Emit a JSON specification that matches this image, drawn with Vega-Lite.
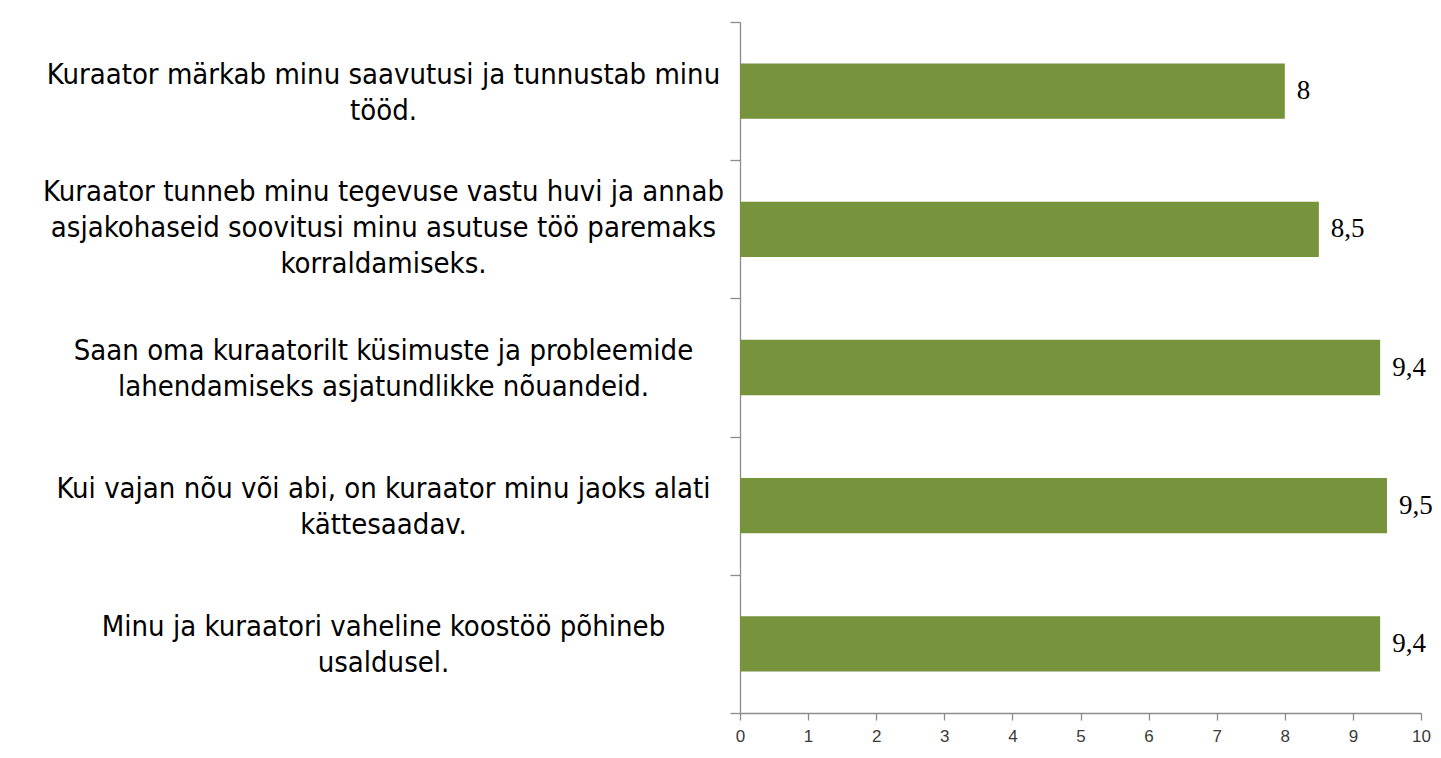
{
  "$schema": "https://vega.github.io/schema/vega-lite/v6.json",
  "width": 681,
  "height": 691,
  "autosize": {"type": "none"},
  "padding": {"left": 740, "top": 22, "right": 20, "bottom": 45},
  "background": "white",
  "config": {"view": {"stroke": null}},
  "data": {
    "values": [
      {"statement": "Kuraator märkab minu saavutusi ja tunnustab minu|tööd.", "score": 8, "label": "8"},
      {"statement": "Kuraator tunneb minu tegevuse vastu huvi ja annab|asjakohaseid soovitusi minu asutuse töö paremaks|korraldamiseks.", "score": 8.5, "label": "8,5"},
      {"statement": "Saan oma kuraatorilt küsimuste ja probleemide|lahendamiseks asjatundlikke nõuandeid.", "score": 9.4, "label": "9,4"},
      {"statement": "Kui vajan nõu või abi, on kuraator minu jaoks alati|kättesaadav.", "score": 9.5, "label": "9,5"},
      {"statement": "Minu ja kuraatori vaheline koostöö põhineb|usaldusel.", "score": 9.4, "label": "9,4"}
    ]
  },
  "encoding": {
    "y": {
      "field": "statement",
      "type": "nominal",
      "sort": null,
      "scale": {"paddingInner": 0, "paddingOuter": 0},
      "axis": {
        "title": null,
        "labelExpr": "split(datum.label, '|')",
        "labelFont": "DejaVu Sans Condensed",
        "labelFontSize": 29,
        "labelLineHeight": 36,
        "labelColor": "#000000",
        "labelAlign": "center",
        "labelBaseline": "middle",
        "labelPadding": 347,
        "labelOffset": {"condition": {"test": "length(split(datum.value, '|')) == 3", "value": -38}, "value": -17},
        "labelLimit": 0,
        "labelOverlap": false,
        "tickBand": "extent",
        "tickSize": 10,
        "tickColor": "#8c8c8c",
        "domainColor": "#8c8c8c",
        "domainWidth": 1.3,
        "tickWidth": 1.3
      }
    },
    "x": {
      "field": "score",
      "type": "quantitative",
      "scale": {"domain": [0, 10], "nice": false},
      "axis": {
        "title": null,
        "values": [0, 1, 2, 3, 4, 5, 6, 7, 8, 9, 10],
        "grid": false,
        "labelFlush": false,
        "tickSize": 7,
        "tickColor": "#8c8c8c",
        "domainColor": "#8c8c8c",
        "domainWidth": 1.3,
        "tickWidth": 1.3,
        "labelFont": "Liberation Sans",
        "labelFontSize": 17,
        "labelColor": "#3a3a3a",
        "labelPadding": 8
      }
    }
  },
  "layer": [
    {"mark": {"type": "bar", "color": "#77933C", "height": {"band": 0.4}}},
    {
      "mark": {"type": "text", "align": "left", "baseline": "middle", "dx": 12, "font": "Liberation Serif", "fontSize": 27, "color": "#000000"},
      "encoding": {"text": {"field": "label"}}
    }
  ]
}
